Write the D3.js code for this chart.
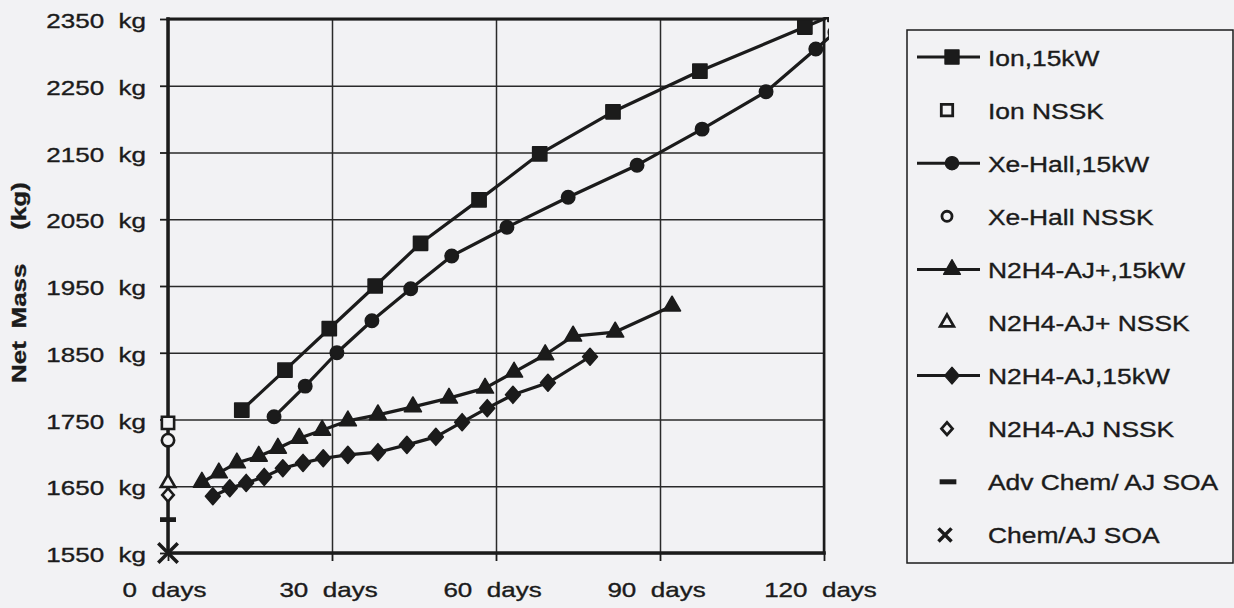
<!DOCTYPE html>
<html>
<head>
<meta charset="utf-8">
<script src="https://cdn.jsdelivr.net/npm/d3@7"></script>
<style>
  html, body { margin: 0; padding: 0; background: #f2f2f4; }
  svg { display: block; font-family: "Liberation Sans", Arial, Helvetica, sans-serif; }
  text { stroke: #1b1b1b; stroke-width: 0.35px; }
</style>
</head>
<body>
<svg id="chart" width="1234" height="608"></svg>
<script>
// net mass vs trip time
var dayTicks = [0, 30, 60, 90, 120];
var massTicks = [1550, 1650, 1750, 1850, 1950, 2050, 2150, 2250, 2350];

var ionDays = [13.5, 21.4, 29.5, 37.9, 46.2, 56.9, 68.0, 81.4, 97.3, 116.5, 122];
var ionMass = [1764, 1824, 1886, 1950, 2014, 2079, 2148, 2211, 2272, 2338, 2357];

var xeDays = [19.4, 25.1, 30.9, 37.3, 44.4, 51.9, 62.0, 73.2, 85.8, 97.7, 109.4, 118.5, 122];
var xeMass = [1754, 1800, 1850, 1898, 1946, 1995, 2038, 2083, 2131, 2185, 2241, 2305, 2330];

var ajPlusDays = [6.2, 9.3, 12.6, 16.6, 20.1, 24.0, 28.2, 32.9, 38.4, 44.8, 51.4, 58.0, 63.3, 69.0, 74.1, 81.8, 92.2];
var ajPlusMass = [1656, 1670, 1685, 1695, 1707, 1722, 1734, 1748, 1757, 1769, 1782, 1797, 1821, 1847, 1875, 1881, 1920];

var ajDays = [8.2, 11.3, 14.3, 17.6, 21.0, 24.7, 28.4, 32.9, 38.4, 43.7, 49.0, 53.8, 58.4, 63.1, 69.5, 77.2];
var ajMass = [1635, 1647, 1655, 1664, 1677, 1685, 1692, 1697, 1701, 1712, 1724, 1746, 1767, 1787, 1805, 1844];

// single points at day 0 (no station keeping / chemical SOA)
var pointNames = ["Ion NSSK", "Xe-Hall NSSK", "N2H4-AJ+ NSSK", "N2H4-AJ NSSK", "Adv Chem/ AJ SOA", "Chem/AJ SOA"];
var pointMass = [1745, 1719, 1655, 1637, 1600, 1550];

var legendNames = ["Ion,15kW", "Ion NSSK", "Xe-Hall,15kW", "Xe-Hall NSSK", "N2H4-AJ+,15kW",
                   "N2H4-AJ+ NSSK", "N2H4-AJ,15kW", "N2H4-AJ NSSK", "Adv Chem/ AJ SOA", "Chem/AJ SOA"];

var ink = "#1b1b1b";
var svg = d3.select("#chart");

var x = d3.scaleLinear().domain([0, 120]).range([168, 824]);
var y = d3.scaleLinear().domain([1550, 2350]).range([553, 19]);

//custom marker shapes
var diamondType = { draw: function(ctx, size) {
    var r = Math.sqrt(size) / 2;
    ctx.moveTo(0, -r * 1.2); ctx.lineTo(r * 1.05, 0); ctx.lineTo(0, r * 1.2); ctx.lineTo(-r * 1.05, 0); ctx.closePath();
}};
var dashType = { draw: function(ctx, size) {
    var w = Math.sqrt(size);
    ctx.rect(-w / 2, -w * 0.15, w, w * 0.3);
}};
var crossType = { draw: function(ctx, size) {
    var r = Math.sqrt(size) / 2;
    ctx.moveTo(-r, -r); ctx.lineTo(r, r); ctx.moveTo(r, -r); ctx.lineTo(-r, r);
}};

var filled = {
    square: d3.symbol().type(d3.symbolSquare).size(200),
    circle: d3.symbol().type(d3.symbolCircle).size(140),
    triangle: d3.symbol().type(d3.symbolTriangle).size(125),
    diamond: d3.symbol().type(diamondType).size(200)
};
var openAxis = {
    square: d3.symbol().type(d3.symbolSquare).size(150),
    circle: d3.symbol().type(d3.symbolCircle).size(120),
    triangle: d3.symbol().type(d3.symbolTriangle).size(90),
    diamond: d3.symbol().type(diamondType).size(120)
};
var openLegend = {
    square: d3.symbol().type(d3.symbolSquare).size(130),
    circle: d3.symbol().type(d3.symbolCircle).size(80),
    triangle: d3.symbol().type(d3.symbolTriangle).size(80),
    diamond: d3.symbol().type(diamondType).size(110)
};

//grid
svg.append("g")
    .attr("transform", "translate(168,0)")
    .call(d3.axisLeft(y).tickValues(massTicks).tickSize(-(824 - 168)).tickFormat(""))
    .call(function(g) { g.select(".domain").remove(); })
    .selectAll("line").attr("stroke", "#2a2a2a").attr("stroke-width", 1.5);
svg.append("g")
    .attr("transform", "translate(0,553)")
    .call(d3.axisBottom(x).tickValues(dayTicks).tickSize(-(553 - 19)).tickFormat(""))
    .call(function(g) { g.select(".domain").remove(); })
    .selectAll("line").attr("stroke", "#2a2a2a").attr("stroke-width", 1.5);

//labelled axes
var yAxis = svg.append("g")
    .attr("transform", "translate(168,0)")
    .call(d3.axisLeft(y).tickValues(massTicks).tickSize(8).tickFormat(function(d) { return d + "\u00a0\u00a0kg"; }));
yAxis.select(".domain").remove();
yAxis.selectAll("line").attr("stroke", ink).attr("stroke-width", 1.8);
yAxis.selectAll("text")
    .attr("fill", ink).attr("font-size", 20)
    .attr("x", -22 / 1.3).attr("dy", "0.43em")
    .attr("transform", "scale(1.3,1)");

var xAxis = svg.append("g")
    .attr("transform", "translate(0,553)")
    .call(d3.axisBottom(x).tickValues(dayTicks).tickSize(8).tickFormat(function(d) { return d + "\u00a0\u00a0days"; }));
xAxis.select(".domain").remove();
xAxis.selectAll("line").attr("stroke", ink).attr("stroke-width", 1.8);
xAxis.selectAll("text")
    .attr("fill", ink).attr("font-size", 20)
    .attr("y", 44).attr("dy", 0).attr("x", -4 / 1.3)
    .attr("transform", "scale(1.3,1)");

//frame
var frame = svg.append("g").attr("stroke", ink).attr("stroke-linecap", "square");
frame.append("line").attr("x1", x(0)).attr("x2", x(120)).attr("y1", y(2350)).attr("y2", y(2350)).attr("stroke-width", 3);
frame.append("line").attr("x1", x(0)).attr("x2", x(120)).attr("y1", y(1550)).attr("y2", y(1550)).attr("stroke-width", 3.5);
frame.append("line").attr("x1", x(0)).attr("x2", x(0)).attr("y1", y(2350)).attr("y2", y(1550)).attr("stroke-width", 3.5);
frame.append("line").attr("x1", x(120)).attr("x2", x(120)).attr("y1", y(2350)).attr("y2", y(1550)).attr("stroke-width", 2.5);

//y title
var titleParts = [["Net", 362], ["Mass", 296], ["(kg)", 206]];
titleParts.forEach(function(p) {
    svg.append("g")
        .attr("transform", "translate(19," + p[1] + ") rotate(-90) scale(1.3,1)")
        .append("text")
        .attr("text-anchor", "middle").attr("dominant-baseline", "central")
        .attr("font-size", 20).attr("font-weight", "bold").attr("fill", ink)
        .text(p[0]);
});

//series
svg.append("clipPath").attr("id", "plotClip")
    .append("rect").attr("x", 160).attr("y", 17).attr("width", 829 - 160).attr("height", 545);

var series = [
    { days: ionDays, mass: ionMass, shape: "square" },
    { days: xeDays, mass: xeMass, shape: "circle" },
    { days: ajPlusDays, mass: ajPlusMass, shape: "triangle" },
    { days: ajDays, mass: ajMass, shape: "diamond" }
];
var line = d3.line().x(function(d) { return x(d[0]); }).y(function(d) { return y(d[1]); });
var plot = svg.append("g").attr("clip-path", "url(#plotClip)");

series.slice().reverse().forEach(function(s) {
    var pts = d3.zip(s.days, s.mass);
    plot.append("path").datum(pts)
        .attr("d", line).attr("fill", "none")
        .attr("stroke", ink).attr("stroke-width", 3.2).attr("stroke-linejoin", "round");
    plot.selectAll(null).data(pts).join("path")
        .attr("transform", function(d) { return "translate(" + x(d[0]) + "," + y(d[1]) + ")"; })
        .attr("d", filled[s.shape]())
        .attr("fill", ink).attr("stroke", ink).attr("stroke-width", 1.6).attr("stroke-linejoin", "round");
});

//day-0 points
var pointShapes = ["square", "circle", "triangle", "diamond"];
pointMass.forEach(function(m, i) {
    var g = svg.append("g").attr("transform", "translate(" + x(0) + "," + y(m) + ")");
    if (i < 4) {
        g.append("path").attr("d", openAxis[pointShapes[i]]())
            .attr("fill", "#f2f2f4").attr("stroke", ink).attr("stroke-width", 2.6);
    } else if (i === 4) {
        g.append("path").attr("d", d3.symbol().type(dashType).size(256)()).attr("fill", ink);
    } else {
        g.append("path").attr("d", d3.symbol().type(crossType).size(380)())
            .attr("fill", "none").attr("stroke", ink).attr("stroke-width", 3.5);
    }
});

//legend
svg.append("rect")
    .attr("x", 907).attr("y", 30).attr("width", 1233 - 907).attr("height", 563 - 30)
    .attr("fill", "none").attr("stroke", ink).attr("stroke-width", 1.5);

legendNames.forEach(function(name, i) {
    var cy = 57 + 53.1 * i;
    var g = svg.append("g");
    if (i % 2 === 0 && i < 8) {
        var shape = series[i / 2].shape;
        g.append("line").attr("x1", 917).attr("x2", 980).attr("y1", cy).attr("y2", cy)
            .attr("stroke", ink).attr("stroke-width", 3);
        g.append("path").attr("transform", "translate(952," + cy + ")")
            .attr("d", filled[shape]()).attr("fill", ink)
            .attr("stroke", ink).attr("stroke-width", 1.2).attr("stroke-linejoin", "round");
    } else if (i < 8) {
        g.append("path").attr("transform", "translate(947," + cy + ")")
            .attr("d", openLegend[pointShapes[(i - 1) / 2]]())
            .attr("fill", "none").attr("stroke", ink).attr("stroke-width", 2.8);
    } else if (i === 8) {
        g.append("path").attr("transform", "translate(948," + cy + ")")
            .attr("d", d3.symbol().type(dashType).size(280)()).attr("fill", ink);
    } else {
        g.append("path").attr("transform", "translate(945," + cy + ")")
            .attr("d", d3.symbol().type(crossType).size(170)())
            .attr("fill", "none").attr("stroke", ink).attr("stroke-width", 3.5);
    }
    g.append("g").attr("transform", "translate(988," + (cy + 8.5) + ") scale(1.2,1)")
        .append("text").attr("font-size", 22).attr("fill", ink).text(name);
});
</script>
</body>
</html>
